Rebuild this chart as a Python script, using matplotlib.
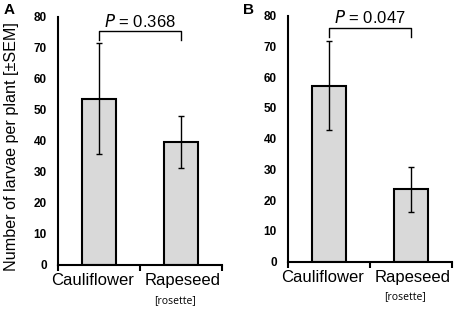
import matplotlib
matplotlib.use("Agg")
import matplotlib.pyplot as plt
import matplotlib.transforms as mtransforms
import numpy as np

plt.rcParams['font.family'] = ['Liberation Sans', 'DejaVu Sans']

categories = ["Cauliflower", "Rapeseed"]
sub_label = "[rosette]"

means_a = [53.6, 39.6]
sem_a = [17.8, 8.5]
means_b = [57.2, 23.5]
sem_b = [14.5, 7.3]

p_a = "0.368"
p_b = "0.047"
y_ticks = [0, 10, 20, 30, 40, 50, 60, 70, 80]


def draw_panel(fig, ax, means, sems, p_text, bracket_top, bracket_end, text_y):
    x = np.arange(len(categories))
    ax.bar(x, means, width=0.42, color="#d9d9d9", edgecolor="black", linewidth=1.5, zorder=2)
    ax.errorbar(x, means, yerr=sems, fmt="none", ecolor="black", elinewidth=1.0,
                capsize=2.5, capthick=1.0, zorder=3)
    ax.set_xlim(-0.5, 1.5)
    ax.set_ylim(0, 80)
    ax.set_yticks(y_ticks)
    ax.set_yticklabels([str(t) for t in y_ticks], fontsize=8.5, fontweight="bold")
    ax.tick_params(axis="y", length=0, pad=8)
    ax.set_xticks(x)
    ax.set_xticklabels(categories, fontsize=12)
    ax.set_xticks([-0.5, 0.5, 1.5], minor=True)
    ax.tick_params(axis="x", which="major", length=0, pad=6)
    ax.tick_params(axis="x", which="minor", length=4, width=1.5, direction="out")
    # nudge the category labels apart a little, like the original
    shifts = [-6, 2]
    for lab, dx in zip(ax.get_xticklabels(), shifts):
        lab.set_transform(lab.get_transform() +
                          mtransforms.ScaledTranslation(dx / 100, 0, fig.dpi_scale_trans))
    for s in ["top", "right"]:
        ax.spines[s].set_visible(False)
    for s in ["left", "bottom"]:
        ax.spines[s].set_linewidth(1.5)
    sub_tr = ax.get_xaxis_transform() + mtransforms.ScaledTranslation(-0.06, 0, fig.dpi_scale_trans)
    ax.text(1, -0.142, sub_label, transform=sub_tr, ha="center",
            va="center", fontsize=7.5, family=["Open Sans", "DejaVu Sans"])
    ax.plot([0, 0, 1, 1], [bracket_end, bracket_top, bracket_top, bracket_end],
            color="black", lw=1.0, clip_on=False)
    ax.text(0.5, text_y, "$P$ = " + p_text, ha="center", va="baseline", fontsize=12,
            clip_on=False)


fig = plt.figure(figsize=(4.61, 3.09), dpi=100)
ax_a = fig.add_axes([0.1258, 0.1424, 0.356, 0.8035])
ax_b = fig.add_axes([0.6247, 0.153, 0.355, 0.796])

draw_panel(fig, ax_a, means_a, sem_a, p_a, 75.3, 72.6, 76.7)
draw_panel(fig, ax_b, means_b, sem_b, p_b, 75.9, 73.2, 77.7)

ax_a.set_ylabel("Number of larvae per plant [±SEM]", fontsize=11.6)
ax_a.yaxis.set_label_coords(-0.238, 0.478)

fig.text(0.008, 0.967, "A", fontsize=11, fontweight="bold", va="center")
fig.text(0.527, 0.967, "B", fontsize=11, fontweight="bold", va="center")

fig.savefig("out.png", dpi=100)
